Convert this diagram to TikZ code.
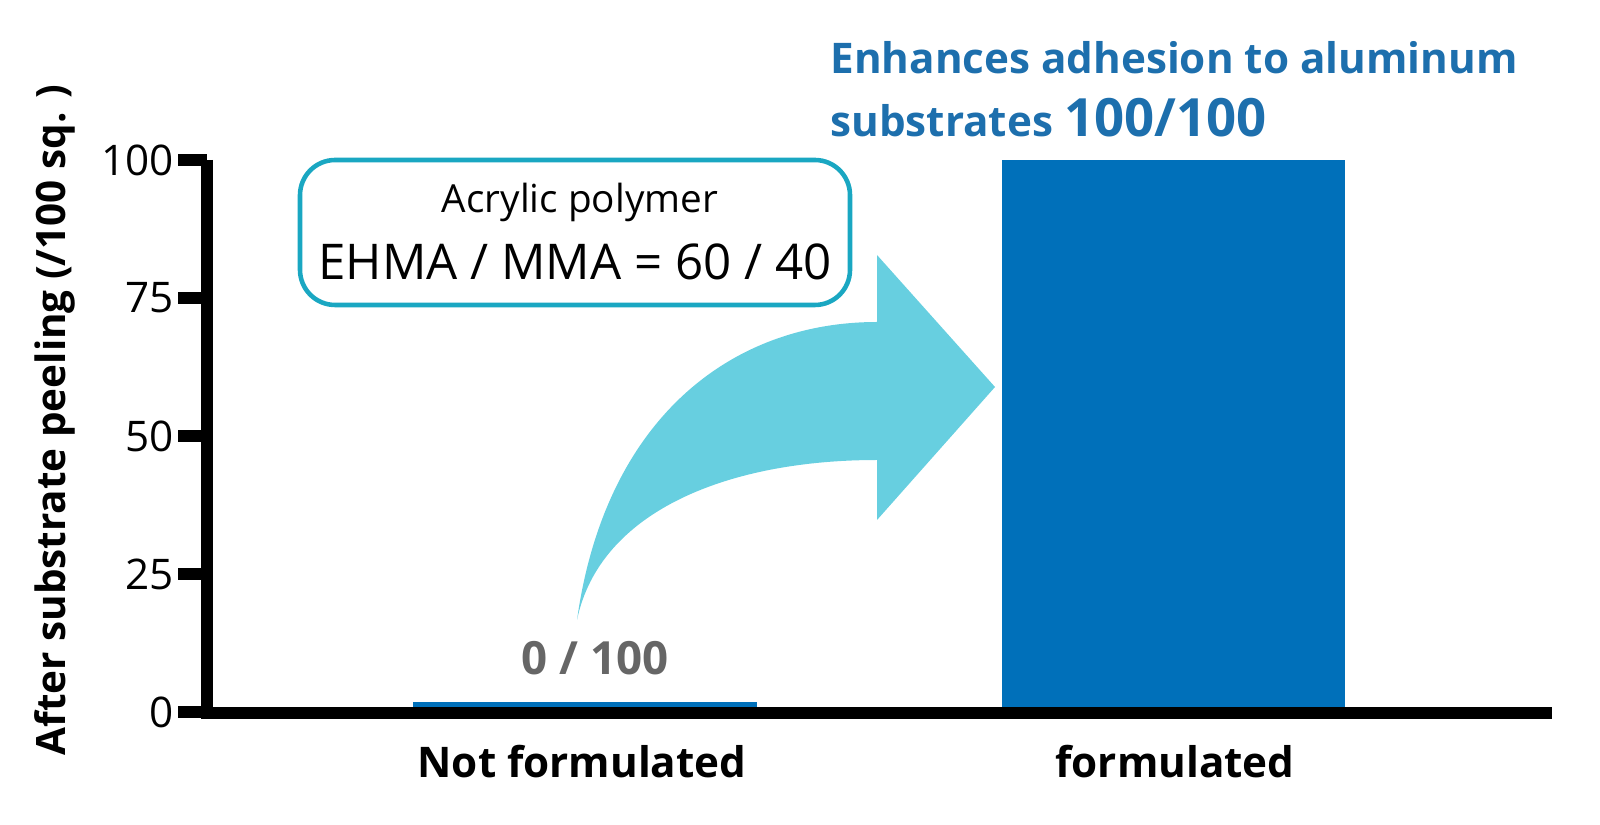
\documentclass[tikz,border=0pt]{standalone}
\usepackage{fontspec}
\setmainfont{Open Sans}
\definecolor{barblue}{HTML}{0070BA}
\definecolor{titleblue}{HTML}{1D6FAD}
\definecolor{arrowcyan}{HTML}{67CFE0}
\definecolor{boxcyan}{HTML}{1AA7C2}
\definecolor{zerogray}{HTML}{666666}
\tikzset{
  axisline/.style={line width=3.5pt},
  ticklabel/.style={anchor=east, font=\fontsize{12}{14}\selectfont},
  catlabel/.style={font=\bfseries\fontsize{12}{14}\selectfont},
}
\begin{document}
\begin{tikzpicture}[x=0.01cm,y=-0.01cm]
  \useasboundingbox (0,0) rectangle (1600,825);
  % bars
  \fill[barblue] (413,702) rectangle (757,713);
  \fill[barblue] (1002,160) rectangle (1345,713);
  % curved arrow
  \fill[arrowcyan] (577,620) .. controls (605,420) and (730,322) .. (877,322)
    -- (877,255) -- (995,387) -- (877,520) -- (877,460)
    .. controls (730,460) and (600,510) .. (577,620) -- cycle;
  % axes
  \draw[axisline] (207,160) -- (207,713) -- (1552,713);
  \foreach \v/\py in {100/160,75/298,50/436,25/574,0/712}{
    \draw[axisline] (178,\py) -- (207,\py);
    \node[ticklabel] at (186,\py) {\v};
  }
  % labels
  \node[rotate=90, font=\bfseries\fontsize{11.5}{14}\selectfont] (ylab) at (55,420) {After substrate peeling (/100 sq. )};
  \node[catlabel] (notform) at (582,762) {Not formulated};
  \node[catlabel] (form) at (1175,762) {formulated};
  \node[font=\bfseries\fontsize{13}{14}\selectfont, text=zerogray] (zero) at (595,658) {0 / 100};
  \node[anchor=west, font=\bfseries\fontsize{12}{14}\selectfont, text=titleblue] (title) at (818,58) {Enhances adhesion to aluminum};
  \node[anchor=west, font=\bfseries\fontsize{12}{14}\selectfont, text=titleblue] (title2) at (818,118) {substrates {\fontsize{15}{16}\selectfont 100/100}};
  % polymer box
  \draw[boxcyan, line width=1.3pt, rounded corners=10pt, fill=white] (300,160) rectangle (850,305);
  \node[font=\fontsize{11}{13}\selectfont] (poly) at (580,202) {Acrylic polymer};
  \node[font=\fontsize{14}{16}\selectfont] (ratio) at (575,262) {EHMA / MMA = 60 / 40};
\end{tikzpicture}
\end{document}
